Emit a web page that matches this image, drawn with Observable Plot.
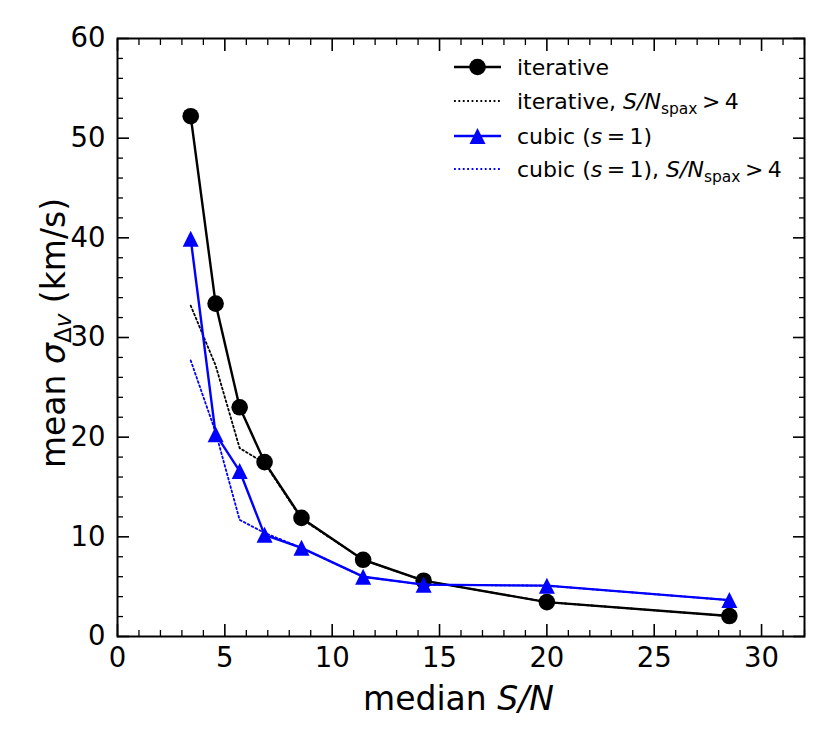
<!DOCTYPE html>
<html>
<head>
<meta charset="utf-8">
<script src="https://cdn.jsdelivr.net/npm/d3@7"></script>
<script src="https://cdn.jsdelivr.net/npm/@observablehq/plot@0.6"></script>
<style>
  html, body { margin: 0; padding: 0; background: white; }
  svg { display: block; }
</style>
</head>
<body>
<div id="chart"></div>
<script>
// ---- data ----
const medianSN      = [3.41, 4.57, 5.69, 6.85, 8.57, 11.44, 14.26, 20.0, 28.5];
const iterative     = [52.2, 33.4, 23.0, 17.5, 11.9, 7.7, 5.6, 3.45, 2.05];
const iterativeSpax = [33.2, 27.2, 18.9, 17.4, 11.8, 7.7, 5.6, 3.45, 2.05];
const cubic         = [39.9, 20.3, 16.6, 10.2, 8.9, 6.0, 5.2, 5.1, 3.65];
const cubicSpax     = [27.7, 20.5, 11.7, 10.4, 8.9, 6.0, 5.2, 5.1, 3.65];

const xMajorTicks = [0, 5, 10, 15, 20, 25, 30];
const xMinorTicks = d3.range(0, 33).filter(v => v % 5 !== 0);
const yMajorTicks = [0, 10, 20, 30, 40, 50, 60];
const yMinorTicks = d3.range(0, 61, 2).filter(v => v % 10 !== 0);

const toRows = (ys) => medianSN.map((x, i) => ({x, y: ys[i]}));
const iterRows = toRows(iterative);
const iterSpaxRows = toRows(iterativeSpax);
const cubicRows = toRows(cubic);
const cubicSpaxRows = toRows(cubicSpax);

const FONT = "DejaVu Sans";
const BLUE = "#0000ff";
const DOTS = "1.8,2.6";
const TS = "\u2009";

// matplotlib-like "^" marker (bbox-centred)
const triangleUp = {
  draw(context, size) {
    const s = Math.sqrt(size / Math.PI);
    context.moveTo(0, -s);
    context.lineTo(s, s);
    context.lineTo(-s, s);
    context.closePath();
  }
};

// inward ticks on all four sides
function inwardTicks(ticks, len, width) {
  return [
    Plot.axisX(ticks, {anchor: "bottom", tickSize: len, dy: -len, tickFormat: () => "", label: null, strokeWidth: width}),
    Plot.axisX(ticks, {anchor: "top", tickSize: len, dy: len, tickFormat: () => "", label: null, strokeWidth: width})
  ];
}
function inwardTicksY(ticks, len, width) {
  return [
    Plot.axisY(ticks, {anchor: "left", tickSize: len, dx: len, tickFormat: () => "", label: null, strokeWidth: width}),
    Plot.axisY(ticks, {anchor: "right", tickSize: len, dx: -len, tickFormat: () => "", label: null, strokeWidth: width})
  ];
}

// axis titles with math-style parts
function axisTitles(index, scales, values, dims) {
  const g = d3.create("svg:g").attr("font-family", FONT).attr("font-size", 33).attr("fill", "black");
  const cx = (dims.marginLeft + dims.width - dims.marginRight) / 2;
  const cy = (dims.marginTop + dims.height - dims.marginBottom) / 2;
  const xt = g.append("text").attr("x", cx - 2).attr("y", dims.height - 33).attr("text-anchor", "middle");
  xt.append("tspan").text("median ");
  xt.append("tspan").attr("font-style", "italic").text("S/N");

  const yt = g.append("text")
    .attr("transform", `translate(${dims.marginLeft - 52},${cy - 4}) rotate(-90)`)
    .attr("text-anchor", "middle");
  yt.append("tspan").text("mean ");
  yt.append("tspan").attr("font-style", "italic").text("σ");
  yt.append("tspan").attr("font-size", 23).attr("dy", 6).text("Δ");
  yt.append("tspan").attr("font-size", 23).attr("font-style", "italic").text("v");
  yt.append("tspan").attr("dy", -6).text(" (km/s)");
  return g.node();
}

// legend in the upper right corner
function legend(index, scales, values, dims) {
  const right = dims.width - dims.marginRight;
  const top = dims.marginTop;
  const g = d3.create("svg:g").attr("font-family", FONT).attr("font-size", 22).attr("fill", "black").attr("text-anchor", "start");
  const x0 = right - 350, x1 = right - 303, xt = right - 287;
  const rows = [top + 29, top + 63, top + 98, top + 131];
  const entries = [
    {stroke: "black", dash: null, marker: "circle", parts: [["iterative"]]},
    {stroke: "black", dash: DOTS, marker: null, parts: [["iterative, "], ["S/N", "italic"], ["spax", "sub"], [`${TS}>${TS}4`, "back"]]},
    {stroke: BLUE, dash: null, marker: "triangle", parts: [["cubic ("], ["s", "italic"], [`${TS}=${TS}1)`]]},
    {stroke: BLUE, dash: DOTS, marker: null, parts: [["cubic ("], ["s", "italic"], [`${TS}=${TS}1), `], ["S/N", "italic"], ["spax", "sub"], [`${TS}>${TS}4`, "back"]]}
  ];
  entries.forEach((e, i) => {
    const y = rows[i];
    g.append("line").attr("x1", x0).attr("x2", x1).attr("y1", y).attr("y2", y)
      .attr("stroke", e.stroke).attr("stroke-width", e.dash ? 1.8 : 2.4).attr("stroke-dasharray", e.dash);
    const mx = (x0 + x1) / 2;
    if (e.marker === "circle") g.append("circle").attr("cx", mx).attr("cy", y).attr("r", 8.3).attr("fill", e.stroke);
    if (e.marker === "triangle") g.append("path").attr("d", `M${mx},${y - 8}L${mx + 8},${y + 8}L${mx - 8},${y + 8}Z`).attr("fill", e.stroke);
    const t = g.append("text").attr("x", xt).attr("y", y + 8).attr("text-anchor", "start");
    e.parts.forEach(([s, kind]) => {
      const sp = t.append("tspan").text(s);
      if (kind === "italic") sp.attr("font-style", "italic");
      if (kind === "sub") sp.attr("font-size", 15.5).attr("dy", 5);
      if (kind === "back") sp.attr("dy", -5);
    });
  });
  return g.node();
}

const chart = Plot.plot({
  width: 831,
  height: 743,
  marginLeft: 117,
  marginRight: 27,
  marginTop: 38,
  marginBottom: 107,
  style: {fontFamily: FONT, background: "white", color: "black"},
  x: {domain: [0, 32]},
  y: {domain: [0, 60]},
  marks: [
    ...inwardTicks(xMajorTicks, 12, 1.6),
    ...inwardTicks(xMinorTicks, 6, 1.3),
    ...inwardTicksY(yMajorTicks, 12, 1.6),
    ...inwardTicksY(yMinorTicks, 6, 1.3),
    Plot.axisX(xMajorTicks, {anchor: "bottom", tickSize: 0, tickPadding: 11, fontSize: 27.5, label: null, tickFormat: d => String(d)}),
    Plot.axisY(yMajorTicks, {anchor: "left", tickSize: 0, tickPadding: 12, fontSize: 27.5, label: null, tickFormat: d => String(d)}),
    Plot.line(iterRows, {x: "x", y: "y", stroke: "black", strokeWidth: 2.4}),
    Plot.dot(iterRows, {x: "x", y: "y", r: 8.3, fill: "black", stroke: null}),
    Plot.line(iterSpaxRows, {x: "x", y: "y", stroke: "black", strokeWidth: 1.8, strokeDasharray: DOTS}),
    Plot.line(cubicRows, {x: "x", y: "y", stroke: BLUE, strokeWidth: 2.4}),
    Plot.dot(cubicRows, {x: "x", y: "y", r: 8, symbol: triangleUp, fill: BLUE, stroke: null}),
    Plot.line(cubicSpaxRows, {x: "x", y: "y", stroke: BLUE, strokeWidth: 1.8, strokeDasharray: DOTS}),
    Plot.frame({stroke: "black", strokeWidth: 2}),
    legend,
    axisTitles
  ]
});
document.getElementById("chart").appendChild(chart);
</script>
</body>
</html>
